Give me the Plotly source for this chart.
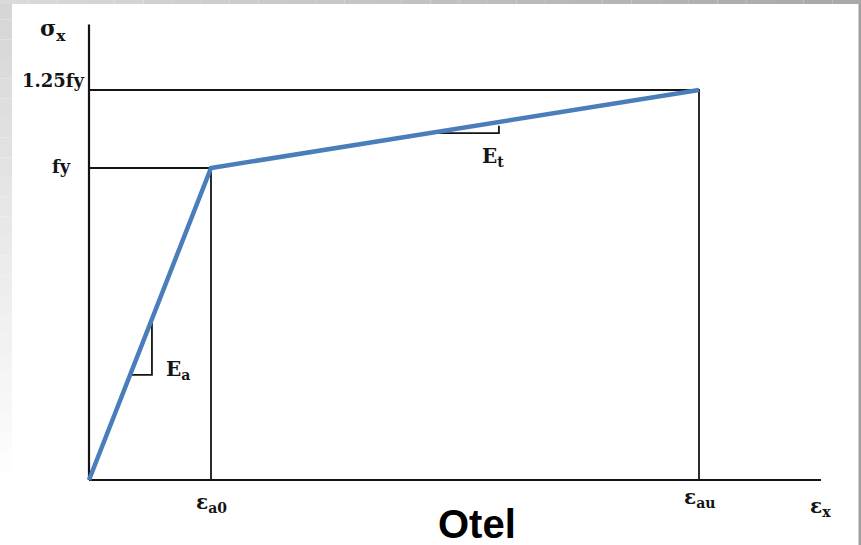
import plotly.graph_objects as go

# Bilinear steel stress-strain model (normalised: eps_a0 = 1, fy = 1)
eps_points = [0, 1, 5]          # 0, eps_a0, eps_au
sigma_points = [0, 1, 1.25]     # 0, fy, 1.25 fy
x_axis_end = 6.0
y_axis_end = 1.46

x_tick_labels = ["ε<sub>a0</sub>", "ε<sub>au</sub>"]
y_tick_labels = ["fy", "1.25fy"]
slope_labels = ["E<sub>a</sub>", "E<sub>t</sub>"]
axis_titles = ["σ<sub>x</sub>", "ε<sub>x</sub>"]
chart_title = "Otel"

# slope-triangle extents along each branch (strain range of the horizontal leg)
slope_legs = [(0.337, 0.516), (2.79, 3.36)]

W, H = 861, 545
ox, oy = 89, 480            # origin in pixels
sx, sy = 122, 312           # pixels per unit

BLUE = "#4a7ebb"
INK = "#141414"
SERIF = "DejaVu Serif"


def sigma_at(e):
    if e <= eps_points[1]:
        return sigma_points[1] * e / eps_points[1]
    return sigma_points[1] + (sigma_points[2] - sigma_points[1]) * (e - eps_points[1]) / (eps_points[2] - eps_points[1])


fig = go.Figure()


def seg(xs, ys, color=INK, width=2):
    fig.add_trace(go.Scatter(x=xs, y=ys, mode="lines", hoverinfo="skip",
                             line=dict(color=color, width=width), showlegend=False))


# axes
seg([0, 0], [0, y_axis_end], width=2.2)
seg([0, x_axis_end], [0, 0], width=2.2)

# guide lines to yield and ultimate points
for e, s in zip(eps_points[1:], sigma_points[1:]):
    seg([0, e, e], [s, s, 0], width=1.8)

# slope triangles
for e0, e1 in slope_legs:
    s0 = sigma_at(e0)
    seg([e0, e1, e1], [s0, s0, sigma_at(e1) - 0.012], width=1.8)

# stress-strain curve
seg(eps_points, sigma_points, color=BLUE, width=4.5)

ann = []
big = dict(family=SERIF, size=20, color=INK)
mid = dict(family=SERIF, size=18, color=INK)
ann.append(dict(x=0, y=y_axis_end, text="<b>" + axis_titles[0] + "</b>", xshift=-36, yshift=-6,
                font=dict(family=SERIF, size=22, color=INK)))
ann.append(dict(x=x_axis_end, y=0, text="<b>" + axis_titles[1] + "</b>", xshift=-1, yshift=-27, font=big))
ann.append(dict(x=0, y=sigma_points[1], text="<b>" + y_tick_labels[0] + "</b>", xshift=-28, yshift=2, font=mid))
ann.append(dict(x=0, y=sigma_points[2], text="<b>" + y_tick_labels[1] + "</b>", xanchor="right", xshift=-2, yshift=10, font=mid))
ann.append(dict(x=eps_points[1], y=0, text="<b>" + x_tick_labels[0] + "</b>", yshift=-23, font=big))
ann.append(dict(x=eps_points[2], y=0, text="<b>" + x_tick_labels[1] + "</b>", yshift=-18, font=big))
ann.append(dict(x=slope_legs[0][1], y=sigma_at(slope_legs[0][0]), text="<b>" + slope_labels[0] + "</b>",
                xanchor="left", xshift=12, yshift=5, font=big))
ann.append(dict(x=slope_legs[1][1], y=sigma_at(slope_legs[1][0]), text="<b>" + slope_labels[1] + "</b>",
                xshift=-6, yshift=-24, font=big))
ann.append(dict(x=(eps_points[2] + eps_points[1]) / 2, y=0, text="<b>" + chart_title + "</b>", xshift=22, yshift=-44,
                font=dict(family="Liberation Sans", size=40, color="#000000")))
for a in ann:
    a.update(xref="x", yref="y", showarrow=False)

# slide frame: grey gradient strips on the left and top edges, thin line on the right
shapes = []
n = 24
for i in range(n):
    g = int(214 + (253 - 214) * i / (n - 1))
    shapes.append(dict(type="rect", xref="paper", yref="paper", layer="below",
                       x0=0, x1=12 / W, y0=1 - (i + 1) * 472 / n / H, y1=1 - i * 472 / n / H,
                       fillcolor=f"rgb({g},{g},{g})", line=dict(width=0)))
m = 30
for i in range(m):
    g = int(218 - (218 - 168) * i / (m - 1))
    shapes.append(dict(type="rect", xref="paper", yref="paper", layer="below",
                       x0=i * W / m / W, x1=(i + 1) * W / m / W, y0=1 - 4 / H, y1=1,
                       fillcolor=f"rgb({g},{g},{g})", line=dict(width=0)))
shapes.append(dict(type="rect", xref="paper", yref="paper", layer="below",
                   x0=858.5 / W, x1=1, y0=0, y1=1 - 4 / H,
                   fillcolor="#a0a0a0", line=dict(width=0)))

fig.update_layout(
    width=W, height=H, autosize=False,
    margin=dict(l=0, r=0, t=0, b=0),
    paper_bgcolor="white", plot_bgcolor="white",
    xaxis=dict(range=[-ox / sx, (W - ox) / sx], visible=False, fixedrange=True),
    yaxis=dict(range=[-(H - oy) / sy, oy / sy], visible=False, fixedrange=True),
    annotations=ann, shapes=shapes, showlegend=False,
)

fig.write_html("out.html")
